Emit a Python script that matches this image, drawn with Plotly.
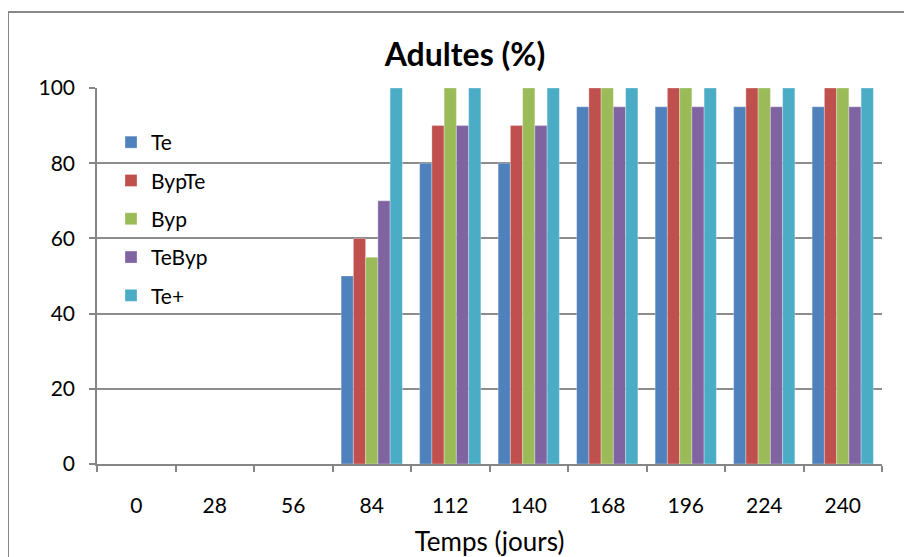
import plotly.graph_objects as go

categories = ["0", "28", "56", "84", "112", "140", "168", "196", "224", "240"]
series_names = ["Te", "BypTe", "Byp", "TeByp", "Te+"]
te = [0, 0, 0, 50, 80, 80, 95, 95, 95, 95]
byp_te = [0, 0, 0, 60, 90, 90, 100, 100, 100, 100]
byp = [0, 0, 0, 55, 100, 100, 100, 100, 100, 100]
te_byp = [0, 0, 0, 70, 90, 90, 95, 95, 95, 95]
te_plus = [0, 0, 0, 100, 100, 100, 100, 100, 100, 100]
colors = ["#4F81BD", "#C0504D", "#9BBB59", "#8064A2", "#4BACC6"]

fig = go.Figure()
for i, (name, vals) in enumerate(zip(series_names, [te, byp_te, byp, te_byp, te_plus])):
    fig.add_trace(go.Bar(
        x=categories, y=vals, name=name, legendgroup=name,
        marker=dict(color=colors[i], line=dict(color="rgba(255,255,255,0.6)", width=0.5)),
    ))

FONT = "Lato, Carlito, Calibri, sans-serif"
# figure is drawn with an 8px page offset; coordinates below are figure pixels
W, H = 904, 549
L, R, T, B = 89, 30, 80, 93
pw, ph = W - L - R, H - T - B

def px_x(p):
    return (p - L) / pw

def px_y(p):
    return (H - B - p) / ph

fig.update_layout(
    width=W, height=H,
    margin=dict(l=L, r=R, t=T, b=B),
    paper_bgcolor="white", plot_bgcolor="white",
    barmode="group", bargap=0.22, bargroupgap=0,
    font=dict(family=FONT, color="black", size=21),
    title=dict(text="<b>Adultes (%)</b>", x=457 / W, xanchor="center", xref="container",
               y=1 - 47 / H, yanchor="middle", yref="container",
               font=dict(size=32, family=FONT, color="black")),
    legend=dict(x=px_x(103), y=px_y(114), xanchor="left", yanchor="top",
                bgcolor="rgba(0,0,0,0)", font=dict(size=21, family=FONT),
                tracegroupgap=8, itemwidth=30),
    showlegend=True,
    xaxis=dict(
        type="category", showline=True, linecolor="#868686", linewidth=1.5,
        ticks="outside", tickson="boundaries", ticklen=6, tickcolor="#868686",
        tickwidth=1.5, showgrid=False, ticklabelstandoff=22, automargin=False,
        title=dict(text="Temps (jours)", font=dict(size=26, family=FONT), standoff=19),
        tickfont=dict(size=21),
    ),
    yaxis=dict(
        range=[0, 100], tickvals=[0, 20, 40, 60, 80, 100],
        showline=True, linecolor="#868686", linewidth=1.5, automargin=False,
        ticks="outside", ticklen=6, tickcolor="#868686", tickwidth=1.5,
        showgrid=True, gridcolor="#8C8C8C", gridwidth=1.5,
        zeroline=False, tickfont=dict(size=21), ticklabelstandoff=10,
    ),
    shapes=[dict(type="rect", xref="paper", yref="paper",
                 x0=px_x(0), x1=px_x(960), y0=px_y(4), y1=px_y(700),
                 line=dict(color="#888888", width=2), fillcolor="rgba(0,0,0,0)",
                 layer="below")],
)

fig.write_html("out.html")
